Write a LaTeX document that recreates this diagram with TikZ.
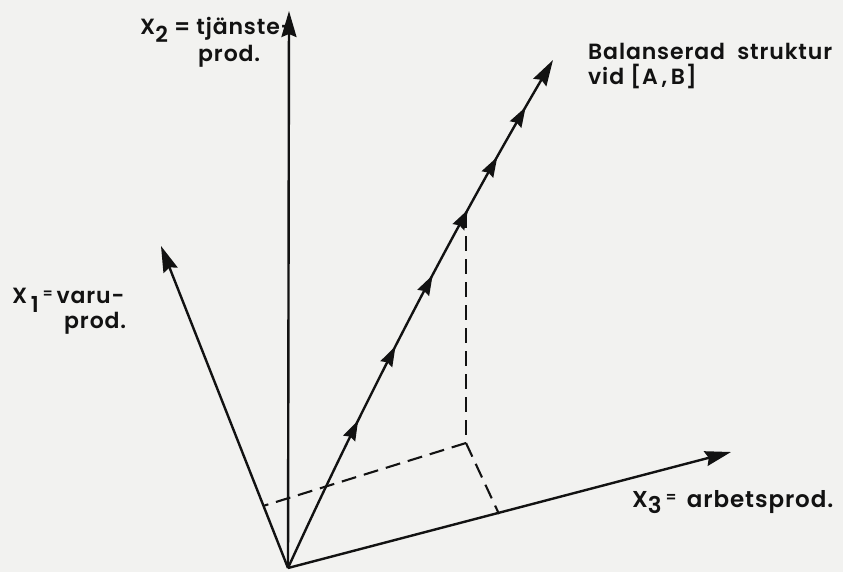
\documentclass[tikz,border=0pt]{standalone}
\usepackage{fontspec}
\setmainfont{Poppins}[UprightFont={* SemiBold},LetterSpace=4]
\usetikzlibrary{arrows.meta,decorations.markings}
\definecolor{paper}{RGB}{242,242,240}
\definecolor{ink}{RGB}{18,18,18}
\tikzset{
  bigtip/.style={-{Stealth[length=26pt,width=15pt,inset=3pt]}}
}
\begin{document}
\begin{tikzpicture}[x=1pt,y=-1pt,
  axis/.style={line width=2.4pt,draw=ink,bigtip},
  diag/.style={line width=2.4pt,draw=ink,bigtip,
    decoration={markings,
      mark=at position 0.285 with {\arrow{Stealth[length=20pt,width=13pt,inset=2pt]}},
      mark=at position 0.43 with {\arrow{Stealth[length=20pt,width=13pt,inset=2pt]}},
      mark=at position 0.57 with {\arrow{Stealth[length=20pt,width=13pt,inset=2pt]}},
      mark=at position 0.70 with {\arrow{Stealth[length=20pt,width=13pt,inset=2pt]}},
      mark=at position 0.805 with {\arrow{Stealth[length=20pt,width=13pt,inset=2pt]}},
      mark=at position 0.905 with {\arrow{Stealth[length=20pt,width=13pt,inset=2pt]}}},
    postaction={decorate}},
  dashline/.style={line width=2.1pt,draw=ink,dash pattern=on 15pt off 8pt},
  lab/.style={inner sep=0pt,anchor=base west,text=ink,font=\fontsize{22}{24}\selectfont}]
\fill[paper] (0,0) rectangle (843,572);
\useasboundingbox (0,0) rectangle (843,572);
% points
\coordinate (O) at (288,568);
\coordinate (X2) at (289,11);
\coordinate (X1) at (161,246);
\coordinate (X3) at (731,452);
\coordinate (T) at (553,60);
\coordinate (C1) at (365.2,398.9);
\coordinate (C2) at (453.2,229.9);
\coordinate (Q) at (466,213);
\coordinate (P) at (466,443);
\coordinate (R1) at (263,506);
\coordinate (R3) at (499,514);
% dashed projections
\draw[dashline] (Q) -- (P);
\draw[dashline] (P) -- (R1);
\draw[dashline] (P) -- (R3);
% axes
\draw[axis] (O) -- (X2);
\draw[axis] (O) -- (X1);
\draw[axis] (O) -- (X3);
\draw[diag] (O) .. controls (C1) and (C2) .. (T);
% labels
\node[lab] (l2a) at (140,35) {X\raisebox{-8pt}{2} = tjänste-};
\node[lab] (l2b) at (198,62) {prod.};
\node[lab] (l1a) at (12,303) {X\,\raisebox{-9pt}{1}\,\raisebox{5pt}{\fontsize{14}{14}\selectfont =}\,varu-};
\node[lab] (l1b) at (64,328) {prod.};
\node[lab,font=\fontsize{23}{24}\selectfont] (l3) at (632,507) {X\raisebox{-6pt}{3}\,\raisebox{5pt}{\fontsize{15}{15}\selectfont =}\ \,arbetsprod.};
\node[lab] (lba) at (588,60) {Balanserad\ \ struktur};
\node[lab] (lbb) at (588,85) {vid [A\,,\,B]};
\end{tikzpicture}
\end{document}
